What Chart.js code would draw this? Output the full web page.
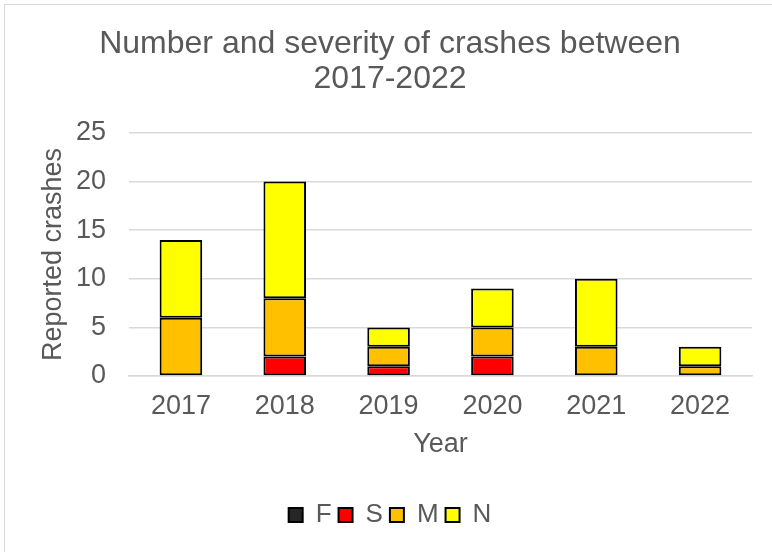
<!DOCTYPE html>
<html>
<head>
<meta charset="utf-8">
<script src="https://cdn.jsdelivr.net/npm/chart.js@4"></script>
<style>
  html, body { margin: 0; padding: 0; background: #fff; overflow: hidden; }
  #frame { position: absolute; left: 4px; top: 4px; width: 800px; height: 600px; border: 1px solid #d9d9d9; }
  #wrap { position: absolute; left: 0; top: 0; width: 772px; height: 552px; }
</style>
</head>
<body>
<div id="frame"></div>
<div id="wrap"><canvas id="grafico" width="772" height="552"></canvas></div>
<script>
const years = ["2017", "2018", "2019", "2020", "2021", "2022"];
const fatal = [0, 0, 0, 0, 0, 0];
const serious = [0, 2, 1, 2, 0, 0];
const minor = [6, 6, 2, 3, 3, 1];
const noInjury = [8, 12, 2, 4, 7, 2];

const gris = "#595959";

Chart.defaults.font.family = '"Liberation Sans", Arial, sans-serif';
Chart.defaults.color = gris;

// los ceros no se dibujan (si no, queda una raya negra en la base)
function serie(label, data, color) {
  return {
    label: label,
    data: data.map(v => v === 0 ? null : v),
    backgroundColor: color,
    borderColor: "#000",
    borderWidth: 2,
    borderSkipped: false,
    barPercentage: 0.41,
    categoryPercentage: 1
  };
}

new Chart(document.getElementById("grafico"), {
  type: "bar",
  data: {
    labels: years,
    datasets: [
      serie("F", fatal, "#262626"),
      serie("S", serious, "#ff0000"),
      serie("M", minor, "#ffc000"),
      serie("N", noInjury, "#ffff00")
    ]
  },
  options: {
    responsive: false,
    animation: false,
    layout: { padding: { left: 28, right: 20, top: 0, bottom: 14 } },
    plugins: {
      title: {
        display: true,
        text: ["Number and severity of crashes between", "2017-2022"],
        font: { size: 32, weight: "normal", lineHeight: 35 / 32 },
        color: gris,
        padding: { top: 27, bottom: 36 }
      },
      legend: {
        position: "bottom",
        labels: {
          font: { size: 26 },
          color: gris,
          boxWidth: 14,
          boxHeight: 14,
          padding: 7
        }
      },
      tooltip: { enabled: false }
    },
    scales: {
      x: {
        stacked: true,
        grid: { display: false, drawTicks: false },
        border: { color: "#d9d9d9", width: 1.5 },
        ticks: { font: { size: 27 }, color: gris, padding: 14 },
        title: { display: true, text: "Year", font: { size: 27 }, color: gris, padding: { top: 0, bottom: 34 } },
        afterFit: s => { s.height = 119; }
      },
      y: {
        stacked: true,
        min: 0,
        max: 25,
        ticks: { stepSize: 5, font: { size: 27 }, color: gris, padding: 23 },
        grid: { color: "#d9d9d9", lineWidth: 1.5, drawTicks: false },
        border: { display: false },
        title: { display: true, text: "Reported crashes", font: { size: 27 }, color: gris, padding: { top: 9, bottom: 0 } },
        afterFit: s => { s.width = 101; }
      }
    }
  }
});
</script>
</body>
</html>
